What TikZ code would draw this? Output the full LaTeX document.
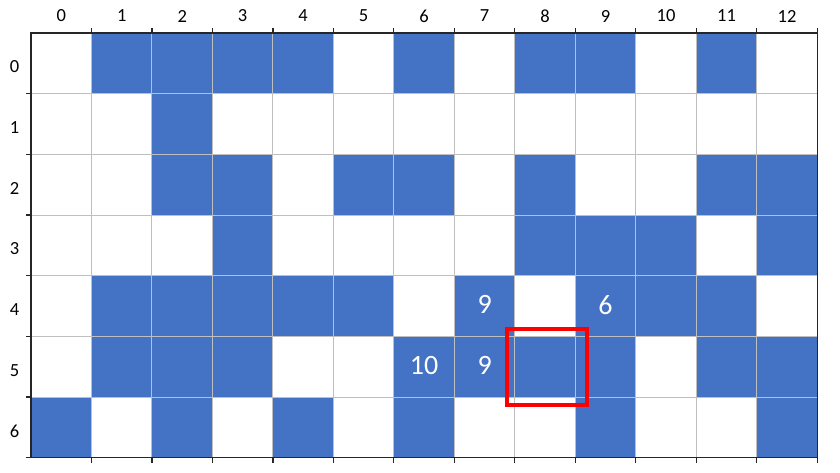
\documentclass[tikz,border=0pt]{standalone}
\usepackage{fontspec}
\setmainfont{Carlito}
\definecolor{cellblue}{HTML}{4472C4}
\definecolor{gridgray}{HTML}{BFBFBF}
\definecolor{hilite}{HTML}{FF0000}
\tikzset{
  cellbox/.style={rectangle, inner sep=0pt, minimum width=60.48pt, minimum height=60.67pt, anchor=north west, draw=none},
  bluecell/.style={cellbox, fill=cellblue},
  axislabel/.style={font=\fontsize{18.5}{18.5}\selectfont, text=black, inner sep=0pt},
  cellnum/.style={font=\fontsize{28}{28}\selectfont, text=white, inner sep=0pt},
  gridline/.style={draw=gridgray, line width=1pt},
  frameline/.style={draw=black!85, line width=1.4pt},
  tickline/.style={draw=black!85, line width=1.2pt},
}
\begin{document}
\begin{tikzpicture}[x=1pt,y=-1pt]
\useasboundingbox (0,0) rectangle (840,472);
\def\X#1{31+#1*60.48}
\def\Y#1{33+#1*60.67}
% blue cells
\foreach \r/\cols in {0/{1,2,3,4,6,8,9,11},1/{2},2/{2,3,5,6,8,11,12},3/{3,8,9,10,12},4/{1,2,3,4,5,7,9,10,11},5/{1,2,3,6,7,8,9,11,12},6/{0,2,4,6,9,12}}{
  \foreach \c in \cols {
    \node[bluecell] (cell-\r-\c) at ({\X{\c}},{\Y{\r}}) {};
  }
}
% grid lines
\foreach \c in {1,...,12} {\draw[gridline] ({\X{\c}},{\Y{0}}) -- ({\X{\c}},{\Y{7}});}
\foreach \r in {1,...,6} {\draw[gridline] ({\X{0}},{\Y{\r}}) -- ({\X{13}},{\Y{\r}});}
% frame
\draw[frameline] ({\X{0}},{\Y{0}}) rectangle ({\X{13}},{\Y{7}});
% ticks
\foreach \c in {1,...,13} {
  \draw[tickline] ({\X{\c}},{\Y{0}}) -- ({\X{\c}},{\Y{0}-5});
  \draw[tickline] ({\X{\c}},{\Y{7}}) -- ({\X{\c}},{\Y{7}+5});
}
\foreach \r in {1,...,7} {
  \draw[tickline] ({\X{0}},{\Y{\r}}) -- ({\X{0}-5},{\Y{\r}});
}
% column labels
\foreach \c in {0,...,12} {
  \node[axislabel] (col-\c) at ({\X{\c}+30.24},16) {\c};
}
% row labels
\foreach \r in {0,...,6} {
  \node[axislabel] (row-\r) at (14.5,{\Y{\r}+34}) {\r};
}
% cell numbers
\node[cellnum] (n47) at ({\X{7}+30.24},{\Y{4}+29}) {9};
\node[cellnum] (n49) at ({\X{9}+30.24},{\Y{4}+29}) {6};
\node[cellnum] (n56) at ({\X{6}+30.24},{\Y{5}+29}) {10};
\node[cellnum] (n57) at ({\X{7}+30.24},{\Y{5}+29}) {9};
% highlight
\draw[hilite, line width=4pt] (507,328.7) rectangle (587,404.7);
\end{tikzpicture}
\end{document}
